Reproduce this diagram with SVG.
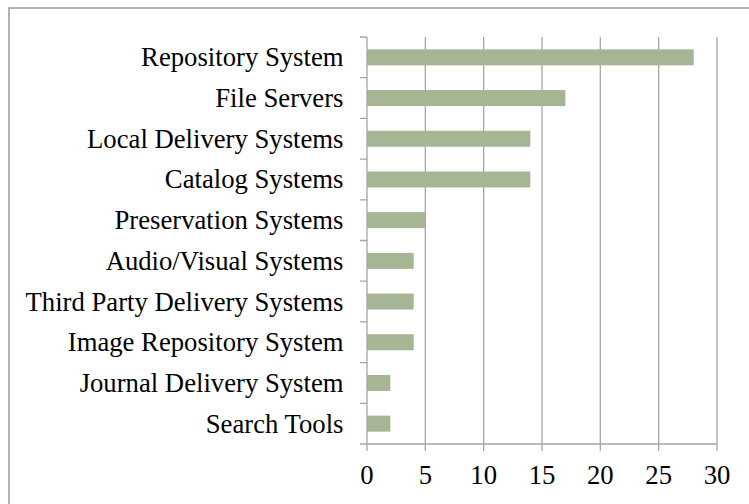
<svg xmlns="http://www.w3.org/2000/svg" width="749" height="504" viewBox="0 0 749 504">
  <style>
    .frame { fill: #ffffff; stroke: #999999; stroke-width: 1.5; }
    .grid { stroke: #a6a6a6; stroke-width: 1.3; fill: none; }
    .axis { stroke: #a6a6a6; stroke-width: 1.3; fill: none; }
    .bar { fill: #a6b593; }
    .lbl { font-family: "Liberation Serif", "Times New Roman", serif; font-size: 26.7px; fill: #000000; }
    .cat { text-anchor: end; }
    .num { text-anchor: middle; }
  </style>

  <!-- chart frame -->
  <rect class="frame" x="9" y="8" width="760" height="520"/>

  <!-- vertical gridlines at 5, 10, ... 30 -->
  <g id="gridlines">
    <line class="grid" x1="425.33" y1="37" x2="425.33" y2="444"/>
    <line class="grid" x1="483.67" y1="37" x2="483.67" y2="444"/>
    <line class="grid" x1="542" y1="37" x2="542" y2="444"/>
    <line class="grid" x1="600.33" y1="37" x2="600.33" y2="444"/>
    <line class="grid" x1="658.67" y1="37" x2="658.67" y2="444"/>
    <line class="grid" x1="717" y1="37" x2="717" y2="444"/>
  </g>

  <!-- bars: value * 11.667 px -->
  <g id="bars">
    <rect class="bar" x="367" y="49.35" width="326.67" height="16"/>
    <rect class="bar" x="367" y="90.05" width="198.33" height="16"/>
    <rect class="bar" x="367" y="130.75" width="163.33" height="16"/>
    <rect class="bar" x="367" y="171.45" width="163.33" height="16"/>
    <rect class="bar" x="367" y="212.15" width="58.33" height="16"/>
    <rect class="bar" x="367" y="252.85" width="46.67" height="16"/>
    <rect class="bar" x="367" y="293.55" width="46.67" height="16"/>
    <rect class="bar" x="367" y="334.25" width="46.67" height="16"/>
    <rect class="bar" x="367" y="374.95" width="23.33" height="16"/>
    <rect class="bar" x="367" y="415.65" width="23.33" height="16"/>
  </g>

  <!-- axes with tick marks -->
  <g id="axes">
    <line class="axis" x1="367" y1="37" x2="367" y2="451"/>
    <line class="axis" x1="360" y1="444" x2="717" y2="444"/>
    <path class="axis" d="M360 37H367 M360 77.7H367 M360 118.4H367 M360 159.1H367 M360 199.8H367 M360 240.5H367 M360 281.2H367 M360 321.9H367 M360 362.6H367 M360 403.3H367"/>
    <path class="axis" d="M425.33 444V451 M483.67 444V451 M542 444V451 M600.33 444V451 M658.67 444V451 M717 444V451"/>
  </g>

  <!-- category labels -->
  <g id="categories">
    <text class="lbl cat" x="343.5" y="66.3">Repository System</text>
    <text class="lbl cat" x="343.5" y="107">File Servers</text>
    <text class="lbl cat" x="343.5" y="147.7">Local Delivery Systems</text>
    <text class="lbl cat" x="343.5" y="188.4">Catalog Systems</text>
    <text class="lbl cat" x="343.5" y="229.1">Preservation Systems</text>
    <text class="lbl cat" x="343.5" y="269.8">Audio/Visual Systems</text>
    <text class="lbl cat" x="343.5" y="310.5">Third Party Delivery Systems</text>
    <text class="lbl cat" x="343.5" y="351.2">Image Repository System</text>
    <text class="lbl cat" x="343.5" y="391.9">Journal Delivery System</text>
    <text class="lbl cat" x="343.5" y="432.8">Search Tools</text>
  </g>

  <!-- value axis labels -->
  <g id="values">
    <text class="lbl num" x="367" y="484">0</text>
    <text class="lbl num" x="425.33" y="484">5</text>
    <text class="lbl num" x="483.67" y="484">10</text>
    <text class="lbl num" x="542" y="484">15</text>
    <text class="lbl num" x="600.33" y="484">20</text>
    <text class="lbl num" x="658.67" y="484">25</text>
    <text class="lbl num" x="717" y="484">30</text>
  </g>
</svg>
